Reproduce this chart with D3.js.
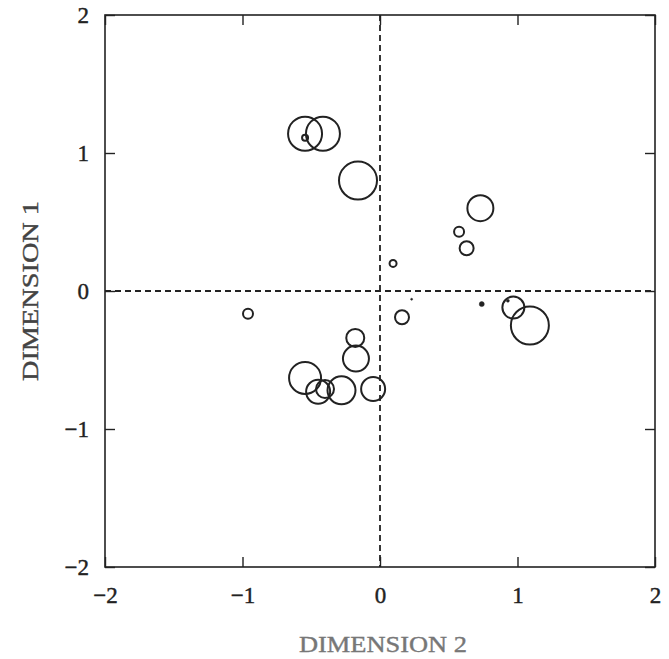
<!DOCTYPE html>
<html>
<head>
<meta charset="utf-8">
<script src="https://cdn.jsdelivr.net/npm/d3@7"></script>
<style>
  body { margin: 0; background: #fff; }
  text { font-family: "Liberation Serif", "DejaVu Serif", serif; }
</style>
</head>
<body>
<div id="chart"></div>
<script>
// point coordinates (dimension 2 = x, dimension 1 = y) and circle size
var dim2 = [-0.545, -0.415, -0.545, -0.16, 0.73, 0.575, 0.63, 0.095, 0.23, 0.74, 0.97, 1.09, 0.93,
            -0.96, 0.16, -0.18, -0.175, -0.545, -0.45, -0.40, -0.28, -0.05];
var dim1 = [1.14, 1.14, 1.11, 0.80, 0.60, 0.43, 0.31, 0.20, -0.06, -0.095, -0.12, -0.25, -0.07,
            -0.165, -0.19, -0.34, -0.49, -0.63, -0.73, -0.71, -0.72, -0.71];
var sizes = [17, 17, 3, 19, 13, 5, 7, 3.5, 1, 2.5, 11, 19, 1.5,
             5, 7, 9, 13, 16, 12, 9, 14, 12];
var filled = [0, 0, 0, 0, 0, 0, 0, 0, 1, 1, 0, 0, 1,
              0, 0, 0, 0, 0, 0, 0, 0, 0];
var tickValues = [-2, -1, 0, 1, 2];

var points = dim2.map(function(d, i) {
    return {x: d, y: dim1[i], s: sizes[i], f: filled[i]};
});

var svgWidth = 669, svgHeight = 659;
var margin = {top: 15, right: 14, bottom: 92, left: 105};
var chartWidth = svgWidth - margin.left - margin.right;
var chartHeight = svgHeight - margin.top - margin.bottom;

var svg = d3.select("#chart").append("svg")
    .attr("width", svgWidth)
    .attr("height", svgHeight);

var chartGroup = svg.append("g")
    .attr("transform", `translate(${margin.left}, ${margin.top})`);

var xScale = d3.scaleLinear().domain([-2, 2]).range([0, chartWidth]);
var yScale = d3.scaleLinear().domain([-2, 2]).range([chartHeight, 0]);
var rScale = d3.scaleLinear().domain([0, 20]).range([0, 20]);

// frame
chartGroup.append("rect")
    .attr("width", chartWidth)
    .attr("height", chartHeight)
    .attr("fill", "none")
    .attr("stroke", "#222")
    .attr("stroke-width", 1.6);

// axes with inward ticks
var fmt = d3.format("d");
var bottomAxis = d3.axisBottom(xScale).tickValues(tickValues).tickSize(-10).tickPadding(20).tickFormat(fmt);
var leftAxis = d3.axisLeft(yScale).tickValues(tickValues).tickSize(-10).tickPadding(16).tickFormat(fmt);
var topAxis = d3.axisTop(xScale).tickValues(tickValues).tickSize(-10).tickFormat("");
var rightAxis = d3.axisRight(yScale).tickValues(tickValues).tickSize(-10).tickFormat("");

function styleAxis(g) {
    g.select(".domain").remove();
    g.selectAll("line").attr("stroke", "#222").attr("stroke-width", 1.4);
    g.selectAll("text").attr("font-size", 23).attr("fill", "#222")
        .attr("stroke", "#222").attr("stroke-width", 0.4)
        .style("font-family", "'Liberation Serif', serif");
}

chartGroup.append("g").attr("transform", `translate(0, ${chartHeight})`).call(bottomAxis).call(styleAxis);
chartGroup.append("g").call(leftAxis).call(styleAxis);
chartGroup.append("g").call(topAxis).call(styleAxis);
chartGroup.append("g").attr("transform", `translate(${chartWidth}, 0)`).call(rightAxis).call(styleAxis);

// dashed zero lines
chartGroup.append("line")
    .attr("x1", xScale(0)).attr("x2", xScale(0))
    .attr("y1", 0).attr("y2", chartHeight)
    .attr("stroke", "#222").attr("stroke-width", 1.8)
    .attr("stroke-dasharray", "6,4");

chartGroup.append("line")
    .attr("x1", 0).attr("x2", chartWidth)
    .attr("y1", yScale(0)).attr("y2", yScale(0))
    .attr("stroke", "#222").attr("stroke-width", 1.8)
    .attr("stroke-dasharray", "6,4");

// circles
chartGroup.selectAll("circle.pt")
    .data(points)
    .enter()
    .append("circle")
    .attr("class", "pt")
    .attr("cx", d => xScale(d.x))
    .attr("cy", d => yScale(d.y))
    .attr("r", d => rScale(d.s))
    .attr("fill", d => d.f ? "#222" : "none")
    .attr("stroke", "#222")
    .attr("stroke-width", d => d.f ? 0.5 : 2);

// axis titles
svg.append("text")
    .attr("x", margin.left + xScale(0) + 3)
    .attr("y", 652)
    .attr("text-anchor", "middle")
    .attr("font-size", 24)
    .attr("fill", "#777")
    .attr("stroke", "#777").attr("stroke-width", 0.4)
    .attr("textLength", 168)
    .attr("lengthAdjust", "spacingAndGlyphs")
    .text("DIMENSION 2");

svg.append("text")
    .attr("transform", `translate(38, ${margin.top + yScale(0)}) rotate(-90)`)
    .attr("text-anchor", "middle")
    .attr("font-size", 24)
    .attr("fill", "#444")
    .attr("stroke", "#444").attr("stroke-width", 0.4)
    .attr("textLength", 180)
    .attr("lengthAdjust", "spacingAndGlyphs")
    .text("DIMENSION 1");
</script>
</body>
</html>
